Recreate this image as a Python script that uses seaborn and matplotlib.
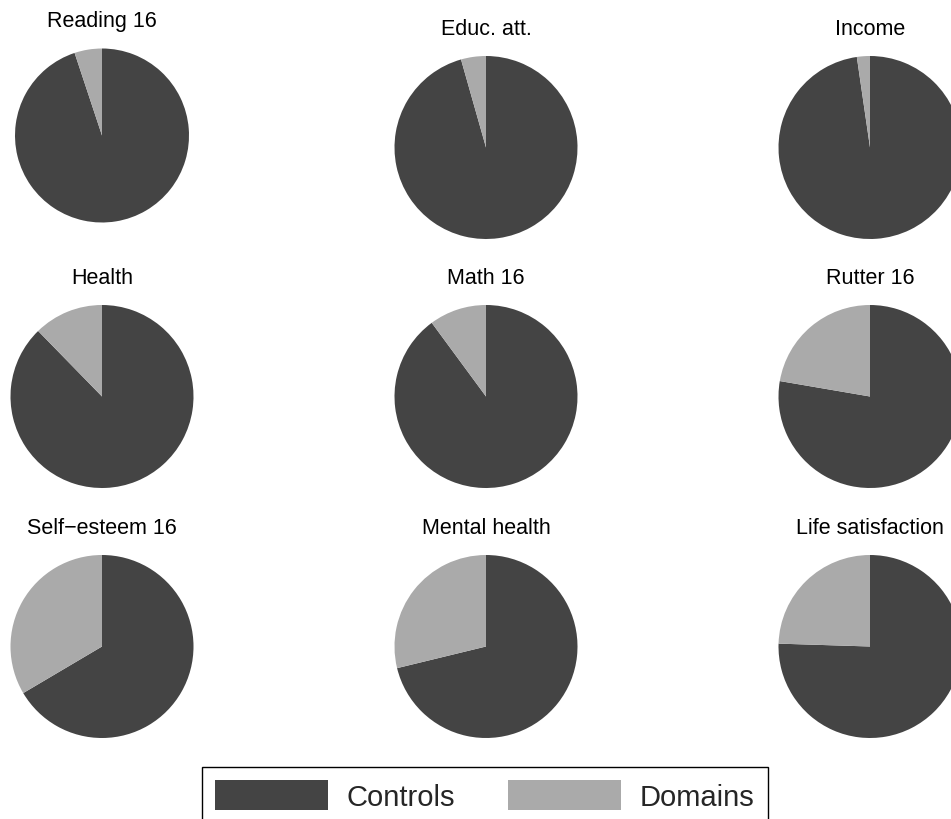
import matplotlib
matplotlib.use("Agg")
import matplotlib.pyplot as plt
from matplotlib.patches import Patch
import seaborn as sns

# === DATA (share of explained variance, %) ===
outcomes = ["Reading 16", "Educ. att.", "Income",
            "Health", "Math 16", "Rutter 16",
            "Self\u2212esteem 16", "Mental health", "Life satisfaction"]
domains = [5.1, 4.4, 2.3, 12.3, 10.1, 22.3, 33.5, 28.8, 24.5]
controls = [100 - d for d in domains]
labels = ["Controls", "Domains"]

# === STYLE ===
sns.set_theme(style="white")
plt.rcParams["font.family"] = ["Liberation Sans", "DejaVu Sans"]
colors = sns.color_palette(["#444444", "#aaaaaa"])

W, H = 951, 820
fig = plt.figure(figsize=(W / 100, H / 100), dpi=100)

# pie centres / radii in pixels (top-left origin)
col_x = [102, 486, 870]
row_y = [148.5, 397.5, 647.5]

for i, name in enumerate(outcomes):
    r_, c_ = divmod(i, 3)
    cx, cy, rad = col_x[c_], row_y[r_], 91.5
    if i == 0:
        cy, rad = 136.5, 87
    ax = fig.add_axes([(cx - rad) / W, 1 - (cy + rad) / H, 2 * rad / W, 2 * rad / H])
    ax.pie([controls[i], domains[i]], colors=colors, startangle=90,
           counterclock=False, radius=1.0,
           wedgeprops=dict(linewidth=0))
    ax.set_xlim(-1, 1)
    ax.set_ylim(-1, 1)
    ax.set_aspect("equal")
    ax.axis("off")
    fig.text(cx / W, 1 - (cy - rad - 22) / H, name, ha="center", va="baseline",
             fontsize=15.5, color="black")

handles = [Patch(facecolor=colors[0], edgecolor="none"),
           Patch(facecolor=colors[1], edgecolor="none")]
leg = fig.legend(handles, labels, loc="upper left", ncol=2,
                 bbox_to_anchor=(202 / W, 1 - 768 / H),
                 fontsize=21, frameon=True, fancybox=False,
                 handlelength=3.87, handleheight=1.2, handletextpad=0.65,
                 columnspacing=1.8, borderpad=0.45, borderaxespad=0)
frame = leg.get_frame()
frame.set_edgecolor("black")
frame.set_linewidth(1.0)
frame.set_alpha(1)

fig.savefig("out.png", dpi=100)
